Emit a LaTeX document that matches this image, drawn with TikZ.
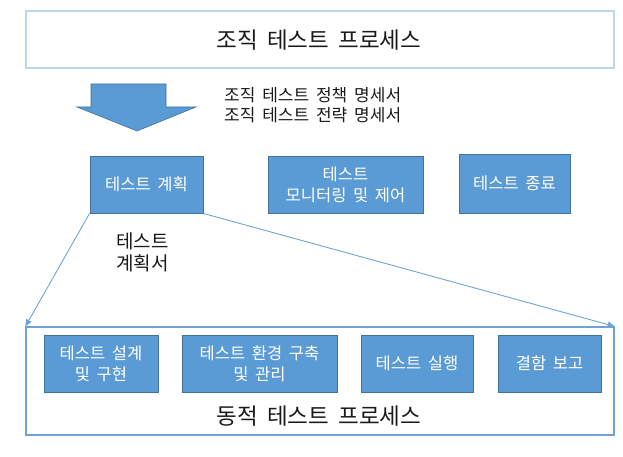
\documentclass[tikz,border=0pt]{standalone}
\usepackage{fontspec}
\setmainfont{Noto Sans CJK KR}[WordSpace=1.8]
\usetikzlibrary{arrows.meta}
\definecolor{boxfill}{HTML}{5B9BD5}
\definecolor{boxline}{HTML}{41719C}
\definecolor{topline}{HTML}{BDD7EE}
\definecolor{dynline}{HTML}{6FA3D8}
\definecolor{txt}{HTML}{1A1A1A}
\tikzset{
  x=1pt, y=-1pt,
  procbox/.style={draw=boxline, fill=boxfill, line width=0.9pt, text=white,
    align=center, inner sep=0pt,
    font=\fontsize{16.5}{21}\selectfont},
  frame/.style={line width=1.2pt, inner sep=0pt},
  label/.style={text=txt, align=left, inner sep=0pt},
  conn/.style={draw=dynline, line width=0.9pt, -{Triangle[length=7pt,width=6pt]}},
}
\begin{document}
\begin{tikzpicture}
\useasboundingbox (0,0) rectangle (623,457);
% top frame
\node[frame, draw=topline, minimum width=588pt, minimum height=57pt] (org) at (320,39.5) {};
\node[text=txt, font=\fontsize{22.5}{26}\selectfont] (orgt) at (319,40) {조직 테스트 프로세스};
% big arrow
\fill[boxfill, draw=boxline, line width=0.6pt] (91,84) -- (166,84) -- (166,107) -- (196,107) -- (137,131) -- (77,107) -- (91,107) -- cycle;
\node[label, font=\fontsize{17}{20}\selectfont, anchor=west] (pol) at (224,105) {조직 테스트 정책 명세서\\조직 테스트 전략 명세서};
% upper boxes
\node[procbox, minimum width=113pt, minimum height=57pt] (plan) at (146.5,184.5) {테스트 계획};
\node[procbox, minimum width=155pt, minimum height=57pt] (mon) at (345.5,184.5) {테스트\\모니터링 및 제어};
\node[procbox, minimum width=111pt, minimum height=59pt] (end) at (514.5,183.5) {테스트 종료};
\node[label, font=\fontsize{19}{22}\selectfont, anchor=west] (plandoc) at (116,252) {테스트\\계획서};
% dynamic frame
\node[frame, draw=dynline, minimum width=588pt, minimum height=108pt] (dyn) at (320,381) {};
\node[text=txt, font=\fontsize{22.5}{26}\selectfont] (dynt) at (319,416) {동적 테스트 프로세스};
% lower boxes
\node[procbox, minimum width=114pt, minimum height=57pt] (des) at (101,363.5) {테스트 설계\\및 구현};
\node[procbox, minimum width=155pt, minimum height=57pt] (env) at (259.5,363.5) {테스트 환경 구축\\및 관리};
\node[procbox, minimum width=112pt, minimum height=57pt] (exe) at (417,363.5) {테스트 실행};
\node[procbox, minimum width=103pt, minimum height=57pt] (rep) at (549.5,363.5) {결함 보고};
% connectors
\draw[conn] (plan.south west) -- (dyn.north west);
\draw[conn] (plan.south east) -- (dyn.north east);
\end{tikzpicture}
\end{document}
